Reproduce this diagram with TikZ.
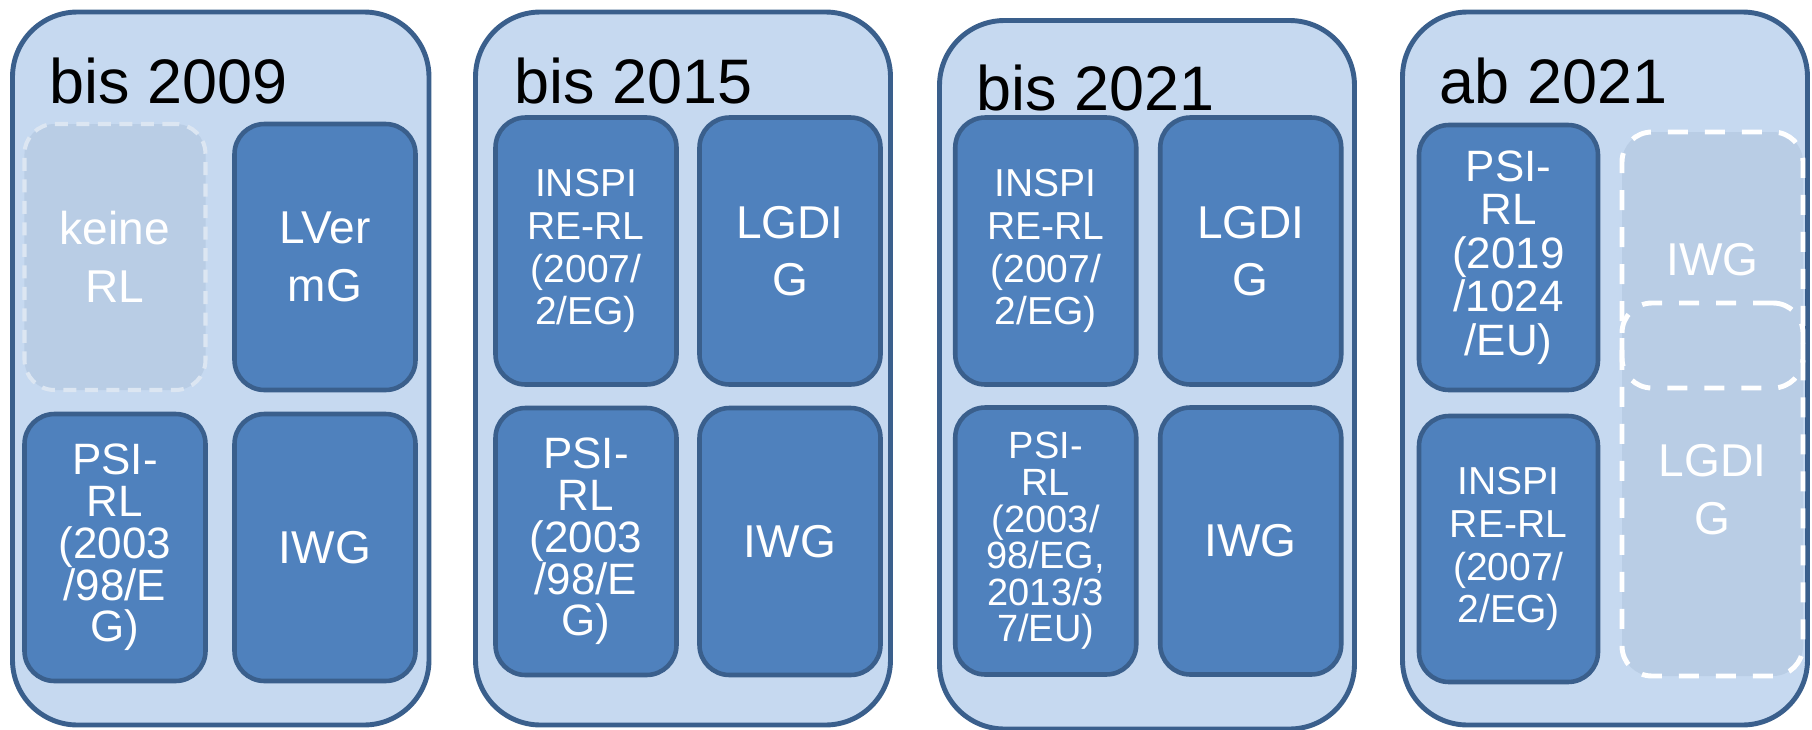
\documentclass[tikz,border=0pt]{standalone}
\usepackage{fontspec}
\setmainfont{Liberation Sans}

\definecolor{panelfill}{RGB}{198,217,240}
\definecolor{panelline}{RGB}{58,95,140}
\definecolor{lawfill}{RGB}{79,129,189}
\definecolor{ghostfill}{RGB}{185,205,229}
\definecolor{ghostline}{RGB}{220,230,242}

\begin{document}
\begin{tikzpicture}[
    period/.style={draw=panelline, fill=panelfill, line width=1.4pt, rounded corners=0.65cm},
    yeartitle/.style={anchor=base west, inner sep=0pt, font=\fontsize{17.9}{21}\selectfont},
    law/.style={draw=panelline, fill=lawfill, line width=1.3pt, rounded corners=0.3cm,
        text=white, align=center, inner sep=0pt, outer sep=0pt,
        minimum width=1.81cm, minimum height=2.67cm},
    nolaw/.style={draw=ghostline, fill=ghostfill, line width=1.15pt, dash pattern=on 0.13cm off 0.085cm,
        rounded corners=0.3cm, text=white, align=center, inner sep=0pt, outer sep=0pt,
        minimum width=1.81cm},
    ghostrim/.style={draw=white, line width=1.4pt, dash pattern=on 0.2cm off 0.17cm, rounded corners=0.3cm},
    fbig/.style={font=\fontsize{13.1}{16.4}\selectfont},
    fpsi/.style={font=\fontsize{12.5}{11.9}\selectfont},
    finsp/.style={font=\fontsize{11.1}{12.2}\selectfont},
    flong/.style={font=\fontsize{10.8}{10.4}\selectfont},
    fnew/.style={font=\fontsize{12.5}{12.4}\selectfont}
]
\useasboundingbox (0,0) rectangle (18.12,-7.30);

% four periods
\draw[period] (0.125,-0.12) rectangle (4.29,-7.25);
\draw[period] (4.755,-0.12) rectangle (8.905,-7.25);
\draw[period] (9.395,-0.205) rectangle (13.545,-7.29);
\draw[period] (14.025,-0.12) rectangle (18.075,-7.25);

% bis 2009
\node[nolaw, fbig, minimum height=2.66cm] (keine1) at (1.15,-2.57) {keine\\RL};
\node[law, fbig, minimum height=2.66cm] (lverm1) at (3.25,-2.57) {LVer\\mG};
\node[law, fpsi] (psi1) at (1.15,-5.475) {PSI-\\RL\\(2003\\/98/E\\G)};
\node[law, fbig] (iwg1) at (3.25,-5.475) {IWG};

% bis 2015
\node[law, finsp] (insp2) at (5.86,-2.51) {INSPI\\RE-RL\\(2007/\\2/EG)};
\node[law, fbig] (lgdig2) at (7.90,-2.51) {LGDI\\G};
\node[law, fpsi] (psi2) at (5.86,-5.415) {PSI-\\RL\\(2003\\/98/E\\G)};
\node[law, fbig] (iwg2) at (7.90,-5.415) {IWG};

% bis 2021
\node[law, finsp] (insp3) at (10.4575,-2.51) {INSPI\\RE-RL\\(2007/\\2/EG)};
\node[law, fbig] (lgdig3) at (12.5075,-2.51) {LGDI\\G};
\node[law, flong] (psi3) at (10.4575,-5.41) {PSI-\\RL\\(2003/\\98/EG,\\2013/3\\7/EU)};
\node[law, fbig] (iwg3) at (12.5075,-5.41) {IWG};

% ab 2021
\node[law, fnew, minimum width=1.79cm, minimum height=2.65cm] (psi4) at (15.085,-2.575) {PSI-\\RL\\(2019\\/1024\\/EU)};
\node[law, finsp, minimum width=1.79cm, minimum height=2.66cm] (insp4) at (15.085,-5.49) {INSPI\\RE-RL\\(2007/\\2/EG)};
\node[nolaw, fbig, draw=none, minimum height=2.56cm] (iwg4) at (17.125,-2.60) {IWG};
\node[nolaw, fbig, draw=white, line width=1.4pt, dash pattern=on 0.2cm off 0.17cm, minimum height=3.73cm] (lgdig4) at (17.125,-4.895) {LGDI\\G};
\draw[ghostrim] (iwg4.south west) rectangle (iwg4.north east);

% titles
\node[yeartitle] (t2009) at (0.49,-1.03) {bis 2009};
\node[yeartitle] (t2015) at (5.14,-1.03) {bis 2015};
\node[yeartitle] (t2021) at (9.76,-1.10) {bis 2021};
\node[yeartitle] (tab2021) at (14.39,-1.03) {ab 2021};
\end{tikzpicture}
\end{document}
